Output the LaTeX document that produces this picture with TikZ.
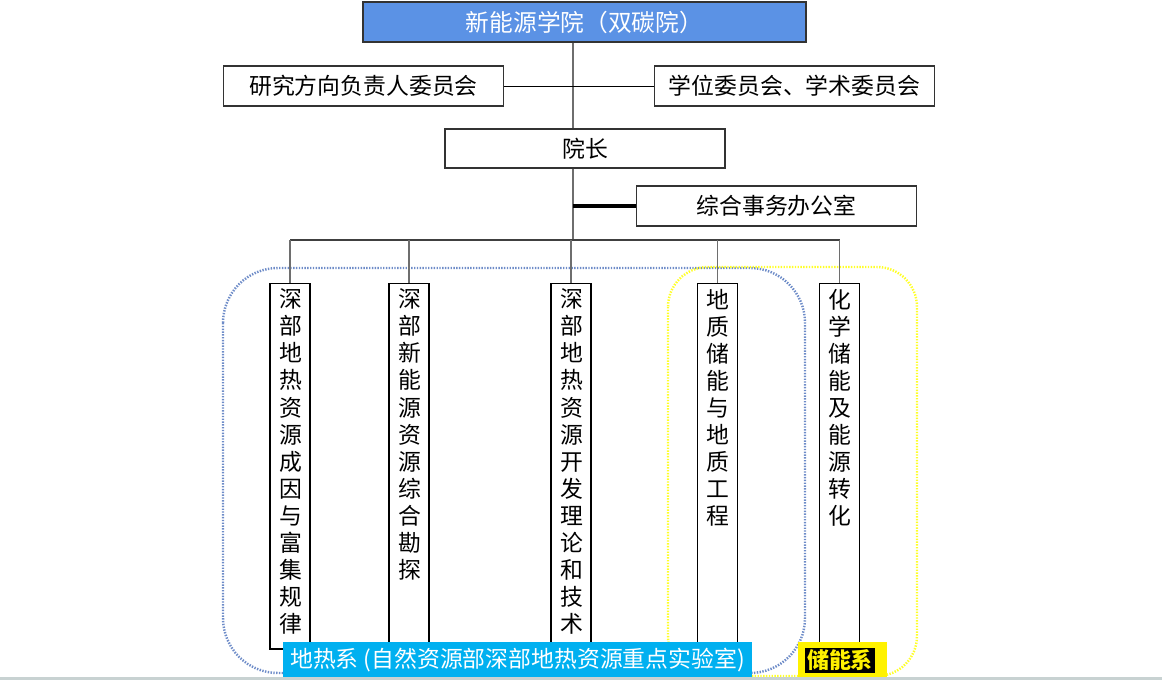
\documentclass[tikz,border=0pt]{standalone}
\usepackage{fontspec}
\setmainfont{Noto Sans CJK SC}
\usepackage{tikz}
\usepackage{xcolor}
\XeTeXlinebreaklocale "zh"
\XeTeXlinebreakskip=0pt plus 1pt
\definecolor{headblue}{RGB}{91,146,229}
\definecolor{geocyan}{RGB}{0,176,240}
\definecolor{dotblue}{RGB}{110,140,200}
\definecolor{dotyellow}{RGB}{255,255,40}
\definecolor{trunkgray}{RGB}{110,110,110}
\definecolor{stripgray}{RGB}{200,210,210}
\tikzstyle{orgbox} = [draw=black!80, fill=white, thick, rectangle,
    minimum width=5.6cm, minimum height=0.8cm, inner sep=0,
    font=\fontsize{13}{15}\selectfont]
\tikzstyle{headbox} = [orgbox, fill=headblue, text=white,
    minimum width=8.86cm, font=\fontsize{13.5}{16}\selectfont]
\tikzstyle{colbox} = [draw=black, fill=white, semithick,
    minimum width=0.8cm, minimum height=7.32cm, inner sep=0]
\tikzstyle{coltext} = [anchor=north, inner sep=0, yshift=-0.12cm,
    text width=1.2em, align=center, font=\fontsize{13}{15.4}\selectfont]
\tikzstyle{link} = [draw=trunkgray, semithick]
\tikzstyle{region} = [dash pattern=on 0.8pt off 0.8pt, line width=1.4pt, rounded corners=1.1cm]
\tikzstyle{tag} = [minimum height=0.72cm, inner sep=0,
    font=\fontsize{13}{15}\selectfont]

\begin{document}
\begin{tikzpicture}[x=0.02cm, y=-0.02cm]
\useasboundingbox (0,0) rectangle (1162,680);
% the two departments
\draw[region, dotblue] (223,268) rectangle (805,673);
\draw[region, dotyellow, rounded corners=0.8cm] (668,267) rectangle (917,676);

\node [headbox] (college) at (584.5,22) {新能源学院（双碳院）};
\node [orgbox] (resdir) at (363.5,86) {研究方向负责人委员会};
\node [orgbox] (degree) at (794.5,86) {学位委员会、学术委员会};
\node [orgbox, minimum height=0.78cm] (dean) at (585,148.5) {院长};
\node [orgbox] (office) at (776.5,206) {综合事务办公室};

\coordinate (trunk) at (573,0);
\coordinate (bus) at (573,240);
\draw[link] (college.south -| trunk) -- (dean.north -| trunk);
\draw[link] (dean.south -| trunk) -- (bus);
\draw (resdir) -- (degree);
\draw[line width=2pt] (office.west) -- (office.west -| trunk);

% research groups
\foreach \n/\x/\t in {g1/290/深部地热资源成因与富集规律,
    g2/409/深部新能源资源综合勘探,
    g3/571/深部地热资源开发理论和技术,
    g4/717.5/地质储能与地质工程,
    g5/839.5/化学储能及能源转化}{
  \node [colbox] (\n) at (\x,466) {};
  \node [coltext] at (\n.north) {\t};
}
\draw[black!75, semithick] (g1.north |- bus) -- (g5.north |- bus);
\foreach \n in {g1,g2,g3,g4,g5}
  \draw[link] (\n.north |- bus) -- (\n.north);

\node [tag, fill=geocyan, text=white, minimum width=9.38cm] (geo) at (517.5,660)
    {地热系 (自然资源部深部地热资源重点实验室)};
\node [tag, fill=yellow, minimum width=1.78cm] (storage) at (842.5,660) {};
\node [fill=black, text=yellow, inner sep=0, minimum width=1.4cm, minimum height=0.5cm,
    font=\bfseries\fontsize{12.5}{14}\selectfont] (storagetxt) at (840,660.5) {储能系};
\fill[stripgray] (0,677) rectangle (1162,680);
\end{tikzpicture}
\end{document}
